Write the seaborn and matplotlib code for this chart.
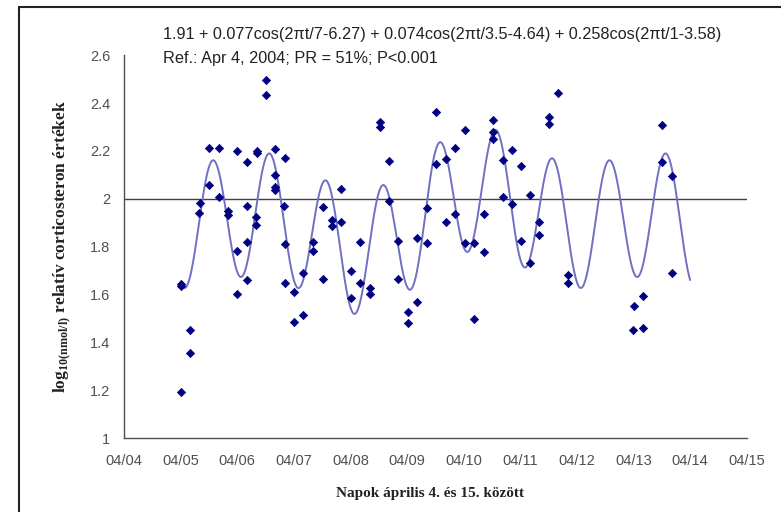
import numpy as np
import pandas as pd
import matplotlib
matplotlib.use("Agg")
import matplotlib.pyplot as plt
from matplotlib.patches import Rectangle
import seaborn as sns

# ---- data -------------------------------------------------------------
date_labels = ["04/04", "04/05", "04/06", "04/07", "04/08", "04/09",
               "04/10", "04/11", "04/12", "04/13", "04/14", "04/15"]

# sample time in days since Apr 4, 00:00
sample_day = [
    1.001, 1.012, 1.012, 1.166, 1.166, 1.330, 1.342, 1.496, 1.508, 1.674, 1.679,
    1.832, 1.843, 2.002, 2.002, 2.002, 2.168, 2.168, 2.168, 2.168, 2.333, 2.333,
    2.345, 2.345, 2.509, 2.509, 2.668, 2.668, 2.668, 2.668, 2.832, 2.845, 2.845,
    2.845, 3.004, 3.004, 3.163, 3.163, 3.334, 3.334, 3.511, 3.511, 3.670, 3.670,
    3.839, 3.839, 4.010, 4.010, 4.175, 4.175, 4.351, 4.351, 4.523, 4.523, 4.687,
    4.687, 4.846, 4.846, 5.023, 5.023, 5.182, 5.182, 5.353, 5.353, 5.512, 5.512,
    5.684, 5.684, 5.854, 5.854, 6.025, 6.025, 6.184, 6.184, 6.361, 6.361, 6.514,
    6.514, 6.514, 6.691, 6.691, 6.850, 6.850, 7.009, 7.009, 7.179, 7.179, 7.338,
    7.338, 7.509, 7.509, 7.673, 7.839, 7.839, 8.998, 9.010, 9.175, 9.175, 9.510,
    9.510, 9.676, 9.676,
]
log_cort = [
    1.193, 1.634, 1.645, 1.451, 1.356, 1.940, 1.982, 2.059, 2.212, 2.007, 2.212,
    1.948, 1.934, 2.198, 1.784, 1.602, 2.152, 1.972, 1.820, 1.660, 1.923, 1.891,
    2.198, 2.190, 2.496, 2.433, 2.210, 2.101, 2.049, 2.035, 1.969, 2.172, 1.813,
    1.650, 1.610, 1.484, 1.515, 1.691, 1.818, 1.783, 1.965, 1.666, 1.912, 1.885,
    2.043, 1.902, 1.699, 1.587, 1.818, 1.650, 1.629, 1.602, 2.320, 2.300, 2.158,
    1.993, 1.825, 1.666, 1.529, 1.483, 1.571, 1.836, 1.814, 1.961, 2.363, 2.147,
    2.165, 1.905, 2.214, 1.937, 2.286, 1.814, 1.814, 1.497, 1.937, 1.780, 2.331,
    2.279, 2.249, 2.164, 2.007, 2.205, 1.979, 2.137, 1.824, 2.017, 1.734, 1.902,
    1.849, 2.340, 2.314, 2.444, 1.681, 1.650, 1.451, 1.553, 1.593, 1.462, 2.307,
    2.152, 2.094, 1.690,
]

# cosinor model printed on the chart
mesor = 1.91
amplitudes = [0.077, 0.074, 0.258]
periods = [7, 3.5, 1]
phases = [6.27, 4.64, 3.58]
fit_start, fit_end = 1.0, 10.0

title_line1 = "1.91 + 0.077cos(2\u03c0t/7-6.27) + 0.074cos(2\u03c0t/3.5-4.64) + 0.258cos(2\u03c0t/1-3.58)"
title_line2 = "Ref.: Apr 4, 2004; PR = 51%; P<0.001"
ylabel = "log$_{\\mathregular{10 (nmol/l)}}$ relatív corticosteron értékek"
xlabel = "Napok április 4. és 15. között"

# ---- build ------------------------------------------------------------
pts = pd.DataFrame({"day": sample_day, "value": log_cort})
t = np.linspace(fit_start, fit_end, 900)
fit = mesor + sum(a * np.cos(2 * np.pi * t / p - ph)
                  for a, p, ph in zip(amplitudes, periods, phases))
curve = pd.DataFrame({"day": t, "value": fit})

sns.set_theme(style="white")
plt.rcParams["font.family"] = ["Liberation Sans", "DejaVu Sans"]
plt.rcParams["mathtext.fontset"] = "custom"
plt.rcParams["mathtext.rm"] = "Liberation Serif"

fig = plt.figure(figsize=(7.81, 5.12), dpi=100)
ax = fig.add_axes([124 / 781, 1 - 438.3 / 512, (746.7 - 124) / 781, (438.3 - 55.2) / 512])

ax.axhline(2.0, color="#404040", lw=1.0, zorder=1)
sns.lineplot(data=curve, x="day", y="value", ax=ax, color="#6f6fc4", lw=1.4,
             zorder=2, sort=False)
sns.scatterplot(data=pts, x="day", y="value", ax=ax, marker="D", s=18,
                color="#000080", edgecolor="#000080", linewidth=0.5, zorder=3)

ax.set_xlim(0, 11)
ax.set_ylim(1, 2.6)
ax.set_xticks(range(len(date_labels)))
ax.set_xticklabels(date_labels)
ax.set_yticks([1, 1.2, 1.4, 1.6, 1.8, 2, 2.2, 2.4, 2.6])
ax.set_yticklabels(["1", "1.2", "1.4", "1.6", "1.8", "2", "2.2", "2.4", "2.6"])
ax.tick_params(axis="both", direction="out", length=5, width=1,
               colors="#505050", labelsize=10.5, labelcolor="#505050")
ax.tick_params(axis="x", pad=6)
ax.tick_params(axis="y", pad=5)

for side in ["top", "right"]:
    ax.spines[side].set_visible(False)
for side in ["left", "bottom"]:
    ax.spines[side].set_color("#505050")
    ax.spines[side].set_linewidth(1.0)

ax.set_xlabel(xlabel, family=["Liberation Serif"], fontweight="bold",
              fontsize=11, color="#222222")
ax.set_ylabel(ylabel, family=["Liberation Serif"], fontweight="bold",
              fontsize=12.5, color="#222222")
ax.xaxis.set_label_coords((430 - 124) / 622.7, -(493 - 438.3) / 383.1)
ax.yaxis.set_label_coords(-(124 - 62) / 622.7, 0.5)
ax.xaxis.label.set_va("center")
ax.yaxis.label.set_va("center")

fig.text(163 / 781, 1 - 35 / 512, title_line1, fontsize=11.7, color="#222222",
         va="center", ha="left")
fig.text(163 / 781, 1 - 58 / 512, title_line2, fontsize=11.7, color="#222222",
         va="center", ha="left")

fig.patches.append(Rectangle((18.5 / 781, -0.05), 1.2, 1.05 - 7 / 512,
                             transform=fig.transFigure, fill=False,
                             edgecolor="#222222", lw=1.5))

fig.savefig("out.png", dpi=100)
